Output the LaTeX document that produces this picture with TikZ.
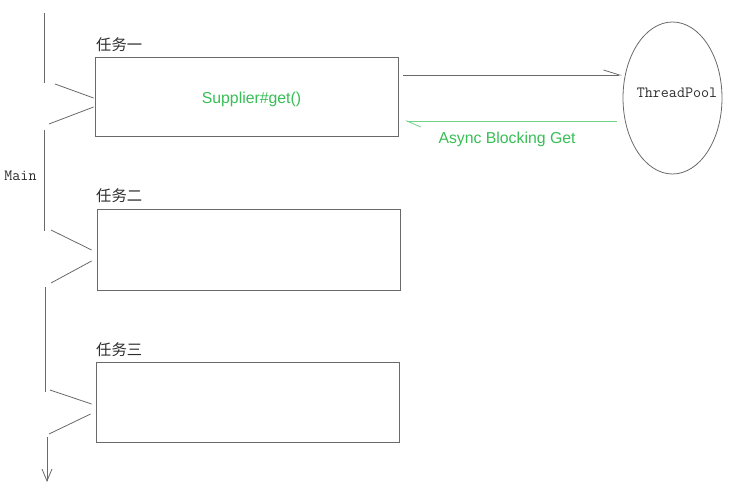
\documentclass[tikz,border=0pt]{standalone}
\usepackage{fontspec}
\setsansfont{Liberation Sans}
\newfontfamily\cjk{Noto Sans CJK SC}
\usetikzlibrary{arrows.meta,calc,shapes.geometric}
\definecolor{lin}{RGB}{105,105,105}
\definecolor{grn}{RGB}{55,190,85}
\definecolor{grnl}{RGB}{110,210,135}
\definecolor{txt}{RGB}{45,45,45}
\tikzset{
  ln/.style={draw=lin, line width=0.8pt},
  taskbox/.style={ln, rectangle, minimum width=303pt, inner sep=0pt},
  tasklbl/.style={anchor=west, inner sep=0pt, text=txt, font=\cjk\fontsize{15.3}{17}\selectfont},
  mono/.style={inner sep=0pt, text=txt, font=\ttfamily\fontsize{15.6}{17}\selectfont},
  gtxt/.style={inner sep=0pt, text=grn, font=\sffamily\fontsize{15.8}{18}\selectfont},
}
\begin{document}
\begin{tikzpicture}[x=1pt,y=-1pt]
\useasboundingbox (0,0) rectangle (730,497);
% boxes
\node[taskbox, minimum height=79pt] (b1) at (246.5,96.5) {};
\node[taskbox, minimum height=81pt] (b2) at (248.5,249.5) {};
\node[taskbox, minimum height=80pt] (b3) at (247.5,402) {};
\node[ln, ellipse, minimum width=99pt, minimum height=152pt, inner sep=0pt] (pool) at (672.5,98) {};
% labels
\node[tasklbl] (l1) at (96,45) {任务一};
\node[tasklbl] (l2) at (96,196) {任务二};
\node[tasklbl] (l3) at (96,350) {任务三};
\node[mono] (main) at (20.5,176) {Main};
\node[mono] (tp) at (677,93) {ThreadPool};
\node[gtxt] (sup) at (251.5,99) {Supplier\#get()};
\node[gtxt] (abg) at (507,139) {Async Blocking Get};
% main thread coordinates
\coordinate (m0) at (44,13);
\coordinate (m1) at (44,83);
\coordinate (c1a) at (55,84);
\coordinate (c1b) at (49,124);
\coordinate (m2) at (44,130);
\coordinate (m3) at (44,231);
\coordinate (c2a) at (51,230);
\coordinate (c2b) at (51,283);
\coordinate (m4) at (45,287);
\coordinate (m5) at (45,392);
\coordinate (c3a) at (50,390);
\coordinate (c3b) at (49,434);
\coordinate (m6) at (47,437);
\coordinate (m7) at (47,482);
\draw[ln] (m0) -- (m1);
\draw[ln] (c1a) -- ($(b1.west)+(-1,1.5)$);
\draw[ln] ($(b1.west)+(-1,10.5)$) -- (c1b);
\draw[ln] (m2) -- (m3);
\draw[ln] (c2a) -- ($(b2.west)+(-5,0.5)$);
\draw[ln] ($(b2.west)+(-5,11.5)$) -- (c2b);
\draw[ln] (m4) -- (m5);
\draw[ln] (c3a) -- ($(b3.west)+(-4,2)$);
\draw[ln] ($(b3.west)+(-5,12)$) -- (c3b);
\draw[ln, -{Straight Barb[length=12pt,width=10pt]}] (m6) -- (m7);
% thread pool arrows
\coordinate (a0) at ($(b1.east)+(4.5,-21.5)$);
\coordinate (a1) at ($(pool.west)+(-0.5,-23)$);
\draw[ln, -{Straight Barb[harpoon,length=16pt,width=10pt]}] (a0) -- (a1);
\coordinate (g0) at ($(pool.west)+(-6,23)$);
\coordinate (g1) at ($(b1.east)+(6.5,24.5)$);
\draw[draw=grnl, line width=0.8pt, -{Straight Barb[harpoon,length=14pt,width=12pt]}] (g0) -- (g1);
\end{tikzpicture}
\end{document}
